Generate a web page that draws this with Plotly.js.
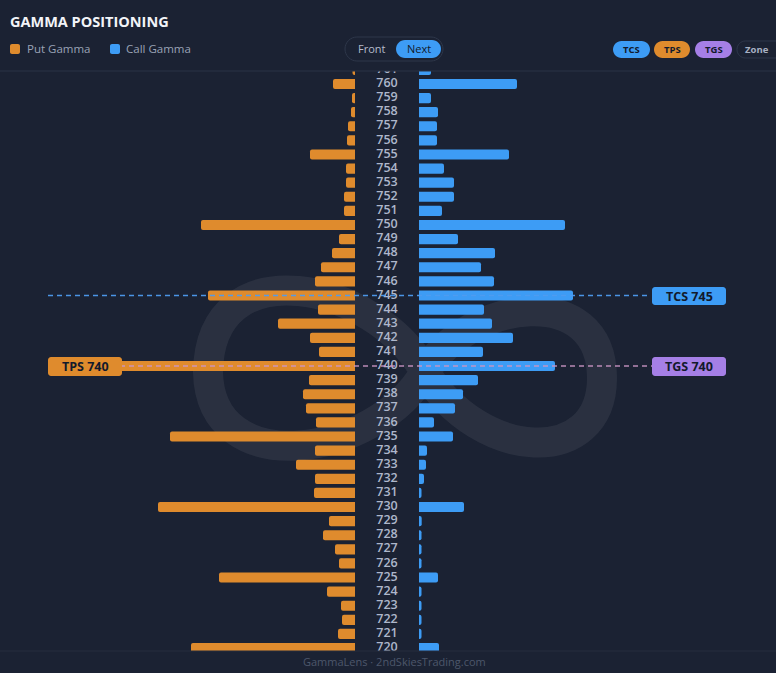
<!DOCTYPE html>
<html>
<head>
<meta charset="utf-8">
<script src="https://cdn.plot.ly/plotly-3.0.1.min.js"></script>
<style>
  html, body { margin: 0; padding: 0; background: #1b2233; }
  #chart { width: 776px; height: 673px; }
</style>
</head>
<body>
<div id="chart"></div>
<script>
(function () {
    'use strict';

    // strikes, top to bottom
    var strikes = [761, 760, 759, 758, 757, 756, 755, 754, 753, 752, 751, 750, 749, 748, 747, 746, 745, 744, 743, 742, 741,
        740, 739, 738, 737, 736, 735, 734, 733, 732, 731, 730, 729, 728, 727, 726, 725, 724, 723, 722, 721, 720];

    var putGamma = [2.5, 22, 3, 4, 7, 8, 45, 9, 9, 11, 11, 154, 16, 23, 34, 40, 147, 37, 77, 45, 36,
        300, 46, 52, 49, 39, 185, 40, 59, 40, 41, 197, 26, 32, 20, 16, 136, 28, 14, 13, 17, 164];

    var callGamma = [12, 98, 12, 19, 18, 18, 90, 25, 35, 35, 23, 146, 39, 76, 62, 75, 154, 65, 73, 94, 64,
        136, 59, 44, 36, 15, 34, 8, 7, 5, 2.5, 45, 2.7, 2.5, 2.5, 2.5, 19, 2.5, 2.5, 2.5, 2.5, 20];

    var strikeLabels = strikes.map(function (s) { return String(s); });

    // key levels
    var tcsLevel = 745, tpsLevel = 740, tgsLevel = 740;

    var W = 776, H = 673;
    var ORANGE = '#df8b2d', BLUE = '#3d9cf5', PURPLE = '#a57fe6';
    var BG = '#1b2233', TEXT_DIM = '#9aa3b6', DARK = '#121a2c';

    // pixel -> paper helpers
    function fx(x) { return x / W; }
    function fy(y) { return 1 - y / H; }
    function P(x, y) { return fx(x).toFixed(5) + ',' + fy(y).toFixed(5); }

    function roundRect(x0, y0, x1, y1, r) {
        var k = r * 0.4477;
        return 'M' + P(x0 + r, y0) +
            'L' + P(x1 - r, y0) +
            'C' + P(x1 - k, y0) + ' ' + P(x1, y0 + k) + ' ' + P(x1, y0 + r) +
            'L' + P(x1, y1 - r) +
            'C' + P(x1, y1 - k) + ' ' + P(x1 - k, y1) + ' ' + P(x1 - r, y1) +
            'L' + P(x0 + r, y1) +
            'C' + P(x0 + k, y1) + ' ' + P(x0, y1 - k) + ' ' + P(x0, y1 - r) +
            'L' + P(x0, y0 + r) +
            'C' + P(x0, y0 + k) + ' ' + P(x0 + k, y0) + ' ' + P(x0 + r, y0) + 'Z';
    }

    function box(x0, y0, x1, y1, r, fill, border) {
        return {
            type: 'path', xref: 'paper', yref: 'paper', path: roundRect(x0, y0, x1, y1, r),
            fillcolor: fill, line: { color: border || fill, width: border ? 1 : 0 }, layer: 'above'
        };
    }

    function label(x, y, text, size, color, bold, anchor) {
        return {
            xref: 'paper', yref: 'paper', x: fx(x), y: fy(y), text: text, showarrow: false,
            xanchor: anchor || 'center', yanchor: 'middle',
            font: { family: 'Open Sans', size: size, color: color, weight: bold ? 700 : 400 }
        };
    }

    // faint logo behind the bars
    var logo = 'M' + P(425, 372) +
        'C' + P(470, 298) + ' ' + P(602, 282) + ' ' + P(602, 378) +
        'C' + P(602, 468) + ' ' + P(480, 462) + ' ' + P(425, 372) +
        'C' + P(375, 282) + ' ' + P(210, 246) + ' ' + P(208, 372) +
        'C' + P(210, 482) + ' ' + P(375, 458) + ' ' + P(425, 372) + 'Z';

    var putDomain = [0, 355 / W];
    var midDomain = [355 / W, 419 / W];
    var callDomain = [419 / W, 1];

    var traces = [
        {
            type: 'bar', orientation: 'h', name: 'Put Gamma',
            x: putGamma, y: strikes, xaxis: 'x', yaxis: 'y',
            width: 0.72, marker: { color: ORANGE }, hoverinfo: 'skip'
        },
        {
            type: 'bar', orientation: 'h', name: 'Call Gamma',
            x: callGamma, y: strikes, xaxis: 'x2', yaxis: 'y',
            width: 0.72, marker: { color: BLUE }, hoverinfo: 'skip'
        },
        {
            type: 'scatter', mode: 'text', name: 'Strike',
            x: strikes.map(function () { return 0.5; }), y: strikes, text: strikeLabels,
            xaxis: 'x3', yaxis: 'y', hoverinfo: 'skip',
            textfont: { family: 'Open Sans', size: 12.5, color: '#aeb7cb', weight: 600 }
        }
    ];

    var hidden = { showgrid: false, zeroline: false, showticklabels: false, showline: false, ticks: '', fixedrange: true };

    var shapes = [
        {
            type: 'path', xref: 'paper', yref: 'paper', path: logo, layer: 'below',
            fillcolor: 'rgba(0,0,0,0)', line: { color: 'rgba(255,255,255,0.065)', width: 30 }
        },
        // separators
        { type: 'line', xref: 'paper', yref: 'paper', x0: 0, x1: 1, y0: fy(71), y1: fy(71), line: { color: '#2b3346', width: 1 } },
        { type: 'line', xref: 'paper', yref: 'paper', x0: 0, x1: 1, y0: fy(651), y1: fy(651), line: { color: '#262d3e', width: 1 } },
        // level lines
        {
            type: 'line', xref: 'paper', yref: 'y', x0: fx(48), x1: fx(650), y0: tcsLevel, y1: tcsLevel,
            line: { color: 'rgba(78,156,240,0.95)', width: 1.5, dash: '5px,4px' }
        },
        {
            type: 'line', xref: 'paper', yref: 'y', x0: fx(48), x1: fx(652), y0: tpsLevel, y1: tpsLevel,
            line: { color: 'rgba(204,150,196,0.9)', width: 1.5, dash: '5px,4px' }
        },
        // legend swatches
        box(10, 44, 20, 54, 2, ORANGE),
        box(110, 44, 120, 54, 2, BLUE),
        // front / next toggle
        box(345, 37, 443, 61, 12, BG, '#2e374a'),
        box(396, 40, 441, 58, 9, BLUE),
        // overlay pills
        box(613, 41, 650, 58, 8.5, BLUE),
        box(654, 41, 690, 58, 8.5, ORANGE),
        box(695, 41, 732, 58, 8.5, PURPLE),
        box(737, 41, 790, 58, 8.5, BG, '#2e374a'),
        // level tags
        box(652, 287, 726, 305, 3, BLUE),
        box(652, 357, 726, 376, 3, PURPLE),
        box(48, 357, 122, 376, 3, ORANGE)
    ];

    var annotations = [
        label(25, 49, 'Put Gamma', 11.5, TEXT_DIM, false, 'left'),
        label(124, 49, 'Call Gamma', 11.5, TEXT_DIM, false, 'left'),
        label(372, 48.5, 'Front', 11, '#b4bccb', false),
        label(418.5, 48.5, 'Next', 11, DARK, false),
        label(631.5, 50, 'TCS', 9.5, DARK, true),
        label(672, 50, 'TPS', 9.5, DARK, true),
        label(713.5, 50, 'TGS', 9.5, DARK, true),
        label(757, 50, 'Zone', 9.5, '#a7b0c2', true),
        label(689, 296, 'TCS ' + tcsLevel, 12.5, DARK, true),
        label(689, 366.5, 'TGS ' + tgsLevel, 12.5, DARK, true),
        label(85, 366.5, 'TPS ' + tpsLevel, 12.5, DARK, true),
        label(394, 661, 'GammaLens · 2ndSkiesTrading.com', 11, '#4d576b', false)
    ];

    var layout = {
        width: W, height: H, autosize: false,
        margin: { l: 0, r: 0, t: 0, b: 0, pad: 0 },
        paper_bgcolor: BG, plot_bgcolor: 'rgba(0,0,0,0)',
        font: { family: 'Open Sans', color: TEXT_DIM },
        showlegend: false,
        barmode: 'overlay',
        barcornerradius: 2,
        title: {
            text: 'GAMMA POSITIONING', xref: 'container', yref: 'container',
            x: fx(10), y: fy(22), xanchor: 'left', yanchor: 'middle',
            font: { family: 'Open Sans', size: 14.5, color: '#f2f4f8', weight: 700 }
        },
        xaxis: Object.assign({ domain: putDomain, range: [355, 0], anchor: 'y' }, hidden),
        xaxis2: Object.assign({ domain: callDomain, range: [0, 357], anchor: 'y' }, hidden),
        xaxis3: Object.assign({ domain: midDomain, range: [0, 1], anchor: 'y' }, hidden),
        yaxis: Object.assign({ domain: [fy(651), fy(71)], range: [719.79, 760.92] }, hidden),
        shapes: shapes,
        annotations: annotations
    };

    Plotly.newPlot('chart', traces, layout, { displayModeBar: false, staticPlot: true });
})();
</script>
</body>
</html>
